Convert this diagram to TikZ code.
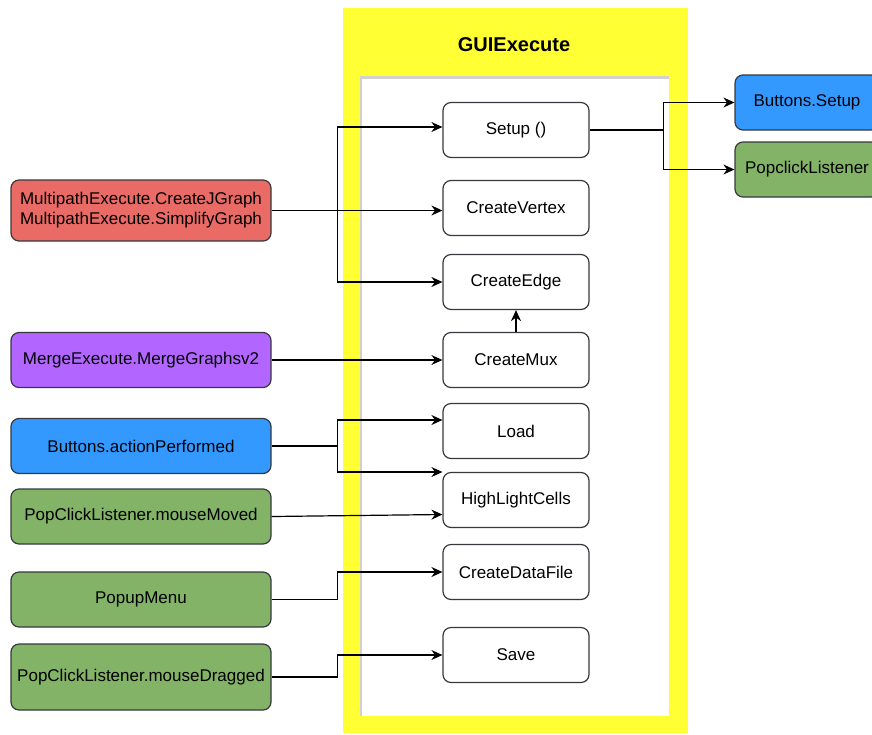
\documentclass[tikz,border=0pt]{standalone}
\usepackage{fontspec}
\setmainfont{Liberation Sans}
\usetikzlibrary{arrows.meta,calc}

\definecolor{guiyellow}{HTML}{FFFF33}
\definecolor{callred}{HTML}{EA6B66}
\definecolor{callpurple}{HTML}{B266FF}
\definecolor{callblue}{HTML}{3399FF}
\definecolor{callgreen}{HTML}{82B366}
\definecolor{boxline}{HTML}{36393D}

\begin{document}
\begin{tikzpicture}[x=1pt,y=-1pt,
  method/.style={draw=boxline,fill=white,line width=1.2pt,rounded corners=8pt,
    minimum width=146pt,minimum height=55pt,font=\fontsize{17}{20}\selectfont},
  caller/.style={draw=boxline,line width=1.2pt,rounded corners=8pt,align=center,
    minimum width=260pt,minimum height=55pt,inner sep=2pt,font=\fontsize{17}{20}\selectfont},
  link/.style={line width=1.2pt,-{Stealth[length=11pt,width=10pt]}}]

\clip (0,0) rectangle (872,734);
\fill[white] (0,0) rectangle (872,734);

% GUIExecute frame
\fill[guiyellow] (343,8) rectangle (688,733);
\fill[black!18] (360,76) rectangle (669,716);
\fill[white] (362,79) rectangle (669,716);
\node (title) at (514,45) [font=\bfseries\fontsize{20}{24}\selectfont] {GUIExecute};

% Methods
\node (setup) at (516,130) [method] {Setup ()};
\node (vertex) at (516,208) [method] {CreateVertex};
\node (edge) at (516,282) [method] {CreateEdge};
\node (mux) at (516,360) [method] {CreateMux};
\node (load) at (516,431) [method] {Load};
\node (hl) at (516,500) [method] {HighLightCells};
\node (datafile) at (516,572) [method] {CreateDataFile};
\node (save) at (516,655) [method] {Save};

% Callers
\node (multipath) at (141,210.5) [caller,fill=callred,minimum height=61pt]
{MultipathExecute.CreateJGraph\\MultipathExecute.SimplifyGraph};
\node (merge) at (141,360) [caller,fill=callpurple] {MergeExecute.MergeGraphsv2};
\node (buttons) at (141,446) [caller,fill=callblue] {Buttons.actionPerformed};
\node (moved) at (141,516.5) [caller,fill=callgreen] {PopClickListener.mouseMoved};
\node (popup) at (141,599.5) [caller,fill=callgreen] {PopupMenu};
\node (dragged) at (141,677) [caller,fill=callgreen,minimum height=66pt] {PopClickListener.mouseDragged};

% Called from Setup
\node (bsetup) at (807,102.5) [caller,fill=callblue,minimum width=144pt] {Buttons.Setup};
\node (pclick) at (807,169.5) [caller,fill=callgreen,minimum width=144pt] {PopclickListener};

% Connectors
\coordinate (lsplit) at ($(multipath.east)+(66,0)$);
\draw[link] (multipath.east) -- (multipath.east -| vertex.west);
\draw[link] (lsplit) |- ($(setup.west)+(0,-3)$);
\draw[link] (lsplit) |- (edge.west);

\draw[link] (merge.east) -- (merge.east -| mux.west);
\draw[link] (mux.north) -- (edge.south);

\coordinate (bsplit) at ($(buttons.east)+(66,0)$);
\draw[line width=1.2pt] (buttons.east) -- (bsplit);
\draw[link] (bsplit) |- ($(load.west)+(0,-11)$);
\draw[link] (bsplit) |- ($(hl.west)+(0,-28)$);

\draw[link] (moved.east) -- ($(hl.west)+(0,14.5)$);
\draw[link] (popup.east) -- ++(66,0) |- (datafile.west);
\draw[link] (dragged.east) -- ++(66,0) |- (save.west);

\coordinate (rsplit) at ($(setup.east)+(74,0)$);
\draw[line width=1.2pt] (setup.east) -- (rsplit);
\draw[link] (rsplit) |- (bsetup.west);
\draw[link] (rsplit) |- (pclick.west);

\end{tikzpicture}
\end{document}
